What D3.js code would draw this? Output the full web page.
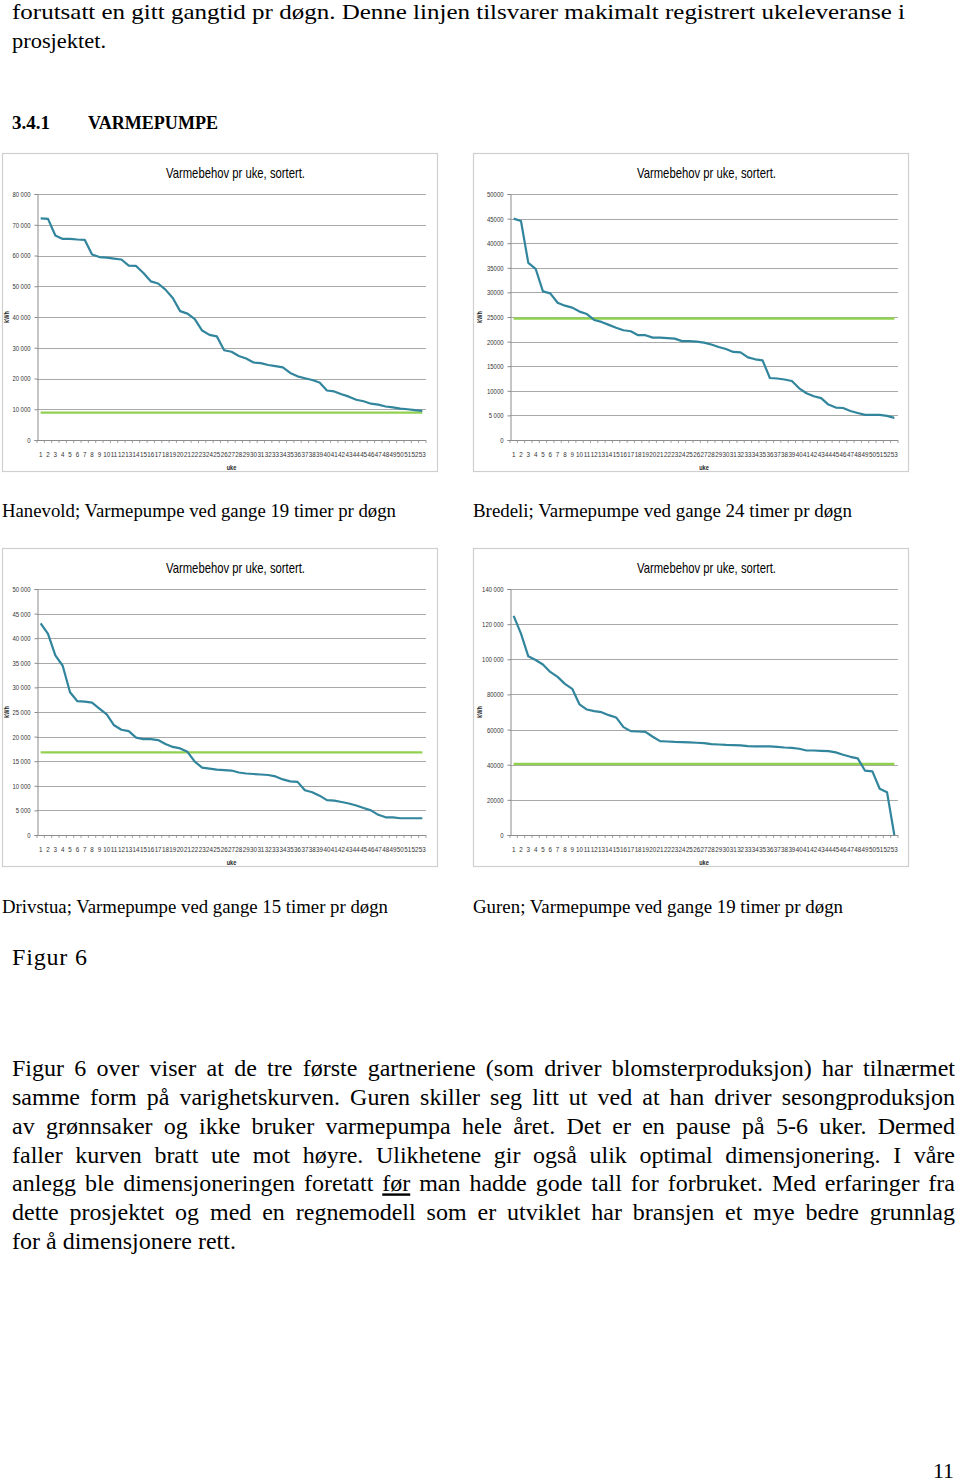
<!DOCTYPE html>
<html><head><meta charset="utf-8">
<script src="https://cdn.jsdelivr.net/npm/d3@7"></script>
<style>
html,body{margin:0;padding:0;background:#fff;}
svg{display:block;}
</style>
</head><body>
<svg id="page" width="960" height="1484"></svg>
<script>
// ---------- DATA ----------
const weeks = [1,2,3,4,5,6,7,8,9,10,11,12,13,14,15,16,17,18,19,20,21,22,23,24,25,26,27,28,29,30,31,32,33,34,35,36,37,38,39,40,41,42,43,44,45,46,47,48,49,50,51,52,53];

const hanevold = [72100,71900,66500,65400,65400,65200,65100,60300,59500,59300,59000,58700,56700,56600,54300,51600,50900,48900,46200,41900,41100,39300,35600,34200,33700,29200,28700,27300,26500,25200,25000,24400,24000,23600,21800,20700,20100,19500,18700,16100,15800,14900,14100,13100,12600,11800,11500,10900,10600,10200,10000,9700,9500];
const hanevoldCap = 8900;
const hanevoldTicks = [0,10000,20000,30000,40000,50000,60000,70000,80000];
const hanevoldTickLabels = ["0","10 000","20 000","30 000","40 000","50 000","60 000","70 000","80 000"];

const bredeli = [45000,44500,36000,34800,30200,29800,27900,27300,26900,26100,25600,24400,24000,23400,22800,22300,22100,21300,21300,20800,20800,20700,20600,20100,20100,20000,19800,19400,18900,18500,17900,17800,16800,16400,16200,12600,12500,12300,12000,10500,9500,8900,8500,7200,6600,6500,5900,5500,5100,5100,5100,4900,4500];
const bredeliCap = 24700;
const bredeliTicks = [0,5000,10000,15000,20000,25000,30000,35000,40000,45000,50000];
const bredeliTickLabels = ["0","5 000","10000","15000","20000","25000","30000","35000","40000","45000","50000"];

const drivstua = [43000,40900,36500,34400,29000,27200,27100,26900,25700,24500,22300,21400,21100,19800,19500,19500,19300,18500,17900,17600,16900,14900,13700,13500,13300,13200,13100,12700,12500,12400,12300,12200,11900,11300,10900,10800,9100,8700,8000,7100,7000,6700,6400,6000,5500,5000,4100,3600,3600,3400,3400,3400,3400];
const drivstuaCap = 16800;
const drivstuaTicks = [0,5000,10000,15000,20000,25000,30000,35000,40000,45000,50000];
const drivstuaTickLabels = ["0","5 000","10 000","15 000","20 000","25 000","30 000","35 000","40 000","45 000","50 000"];

const guren = [124700,114600,101700,99600,97000,92800,90000,86000,83200,74300,71400,70500,69900,68200,66900,61400,59100,58900,58700,55900,53400,53200,53000,52900,52700,52500,52300,51700,51500,51300,51200,51000,50600,50400,50400,50400,50200,49800,49600,49100,48100,48100,47900,47700,47000,45700,44500,43600,36600,36200,26300,24400,0];
const gurenCap = 40400;
const gurenTicks = [0,20000,40000,60000,80000,100000,120000,140000];
const gurenTickLabels = ["0","20000","40000","60000","80000","100 000","120 000","140 000"];

const chartTitle = "Varmebehov  pr uke, sortert.";
const yTitle = "kWh";
const xTitle = "uke";

const captions = [
  "Hanevold; Varmepumpe ved gange 19 timer pr døgn",
  "Bredeli; Varmepumpe ved gange 24 timer pr døgn",
  "Drivstua; Varmepumpe ved gange 15 timer pr døgn",
  "Guren; Varmepumpe ved gange 19 timer pr døgn"
];

const introLines = [
  "forutsatt en gitt gangtid pr døgn. Denne linjen tilsvarer makimalt registrert ukeleveranse i",
  "prosjektet."
];
const headingNum = "3.4.1";
const headingText = "VARMEPUMPE";
const figLabel = "Figur 6";
const paragraph = [
  "Figur 6 over viser at de tre første gartneriene (som driver blomsterproduksjon) har tilnærmet",
  "samme form på varighetskurven. Guren skiller seg litt ut ved at han driver sesongproduksjon",
  "av grønnsaker og ikke bruker varmepumpa hele året. Det er en pause på 5-6 uker. Dermed",
  "faller kurven bratt ute mot høyre. Ulikhetene gir også ulik optimal dimensjonering. I våre",
  "anlegg ble dimensjoneringen foretatt før man hadde gode tall for forbruket. Med erfaringer fra",
  "dette prosjektet og med en regnemodell som er utviklet har bransjen et mye bedre grunnlag",
  "for å dimensjonere rett."
];
const underlinedWord = "før";
const pageNumber = "11";

// ---------- LAYOUT ----------
const svg = d3.select("#page");
svg.append("rect").attr("width",960).attr("height",1484).attr("fill","#fff");

const SERIF = "'Liberation Serif','Times New Roman',serif";
const SANS = "'Liberation Sans Narrow','Arial Narrow','Liberation Sans',Arial,sans-serif";
const LINE = "#31859c", CAP = "#92d050", GRID = "#a8a8a8", AXIS = "#8c8c8c";

function condense(sel, f) {
  sel.each(function() {
    const w = this.getComputedTextLength();
    d3.select(this).attr("textLength", w * f).attr("lengthAdjust", "spacingAndGlyphs");
  });
}

// top text
svg.append("text").attr("x",12).attr("y",19).attr("font-family",SERIF).attr("font-size",22)
  .attr("textLength",893).attr("lengthAdjust","spacingAndGlyphs").attr("fill","#000").text(introLines[0]);
svg.append("text").attr("x",12).attr("y",48).attr("font-family",SERIF).attr("font-size",22)
  .attr("textLength",94).attr("lengthAdjust","spacingAndGlyphs").attr("fill","#000").text(introLines[1]);
svg.append("text").attr("x",12).attr("y",129).attr("font-family",SERIF).attr("font-size",18).attr("font-weight","bold")
  .attr("textLength",38).attr("lengthAdjust","spacingAndGlyphs").text(headingNum);
svg.append("text").attr("x",88).attr("y",129).attr("font-family",SERIF).attr("font-size",18).attr("font-weight","bold")
  .attr("textLength",130).attr("lengthAdjust","spacingAndGlyphs").text(headingText);

const charts = [
  {values:hanevold, cap:hanevoldCap, ticks:hanevoldTicks, labels:hanevoldTickLabels, bx:2,   by:153, pl:35, pr:424},
  {values:bredeli,  cap:bredeliCap,  ticks:bredeliTicks,  labels:bredeliTickLabels,  bx:473, by:153, pl:37, pr:425},
  {values:drivstua, cap:drivstuaCap, ticks:drivstuaTicks, labels:drivstuaTickLabels, bx:2,   by:548, pl:35, pr:424},
  {values:guren,    cap:gurenCap,    ticks:gurenTicks,    labels:gurenTickLabels,    bx:473, by:548, pl:37, pr:425}
];

charts.forEach((c) => {
  const g = svg.append("g").attr("transform",`translate(${c.bx},${c.by})`);
  g.append("rect").attr("x",0.5).attr("y",0.5).attr("width",435).attr("height",318)
    .attr("fill","#fff").attr("stroke","#cfcfcf").attr("stroke-width",1.2);
  const top = 41, bottom = 287;
  const y = d3.scaleLinear().domain([0, d3.max(c.ticks)]).range([bottom, top]);
  const x = d3.scaleBand().domain(weeks).range([c.pl, c.pr]).padding(0);
  const cx = d => x(d) + x.bandwidth()/2;

  // gridlines
  g.append("g").selectAll("line").data(c.ticks.filter(t=>t>0)).join("line")
    .attr("x1",c.pl).attr("x2",c.pr).attr("y1",d=>Math.round(y(d))+0.5).attr("y2",d=>Math.round(y(d))+0.5)
    .attr("stroke",GRID).attr("stroke-width",1);

  // y axis
  const ya = d3.axisLeft(y).tickValues(c.ticks).tickSize(3).tickPadding(4)
    .tickFormat((d,i)=>c.labels[i]);
  const yg = g.append("g").attr("transform",`translate(${c.pl+0.5},0)`).call(ya);
  yg.select(".domain").attr("stroke",AXIS);
  yg.selectAll(".tick line").attr("stroke",AXIS);
  yg.selectAll("text").attr("font-family",SANS).attr("font-size",7.6).attr("fill","#333");
  condense(yg.selectAll("text"), 0.78);

  // x axis
  const xa = d3.axisBottom(x).tickSize(0).tickPadding(11).tickFormat(d=>String(d));
  const xg = g.append("g").attr("transform",`translate(0,${bottom+0.5})`).call(xa);
  xg.select(".domain").attr("stroke",AXIS).attr("d",`M${c.pl},0H${c.pr}`);
  xg.selectAll("text").attr("font-family",SANS).attr("font-size",7.8).attr("fill","#333");
  condense(xg.selectAll("text"), 0.8);
  // category boundary tick marks
  const bounds = weeks.map(w => x(w)).concat([x(weeks[weeks.length-1]) + x.bandwidth()]);
  g.append("g").selectAll("line").data(bounds).join("line")
    .attr("x1",d=>d).attr("x2",d=>d).attr("y1",bottom).attr("y2",bottom+3)
    .attr("stroke",AXIS).attr("stroke-width",0.8);

  // capacity line
  g.append("line").attr("x1",cx(weeks[0])).attr("x2",cx(weeks[weeks.length-1]))
    .attr("y1",y(c.cap)).attr("y2",y(c.cap)).attr("stroke",CAP).attr("stroke-width",2.4);

  // series line
  const line = d3.line().x((d,i)=>cx(weeks[i])).y(d=>y(d));
  g.append("path").datum(c.values).attr("d",line).attr("fill","none")
    .attr("stroke",LINE).attr("stroke-width",2.2).attr("stroke-linejoin","round");

  // titles
  g.append("text").attr("x",164).attr("y",25).attr("font-family",SANS).attr("font-size",15)
    .attr("textLength",139).attr("lengthAdjust","spacingAndGlyphs").attr("fill","#000").text(chartTitle);
  const yl = g.append("text").attr("transform",`translate(${c.pl-28},${(top+bottom)/2}) rotate(-90)`)
    .attr("text-anchor","middle").attr("font-family",SANS).attr("font-size",7).attr("font-weight","bold")
    .attr("fill","#222").text(yTitle);
  condense(yl, 0.8);
  const xl = g.append("text").attr("x",(c.pl+c.pr)/2).attr("y",bottom+30).attr("text-anchor","middle")
    .attr("font-family",SANS).attr("font-size",7).attr("font-weight","bold").attr("fill","#222").text(xTitle);
  condense(xl, 0.8);
});

// captions
const capPos = [[2,517,394],[473,517,379],[2,913,386],[473,913,370]];
captions.forEach((t,i) => {
  svg.append("text").attr("x",capPos[i][0]).attr("y",capPos[i][1]).attr("font-family",SERIF)
    .attr("font-size",18).attr("textLength",capPos[i][2]).attr("lengthAdjust","spacingAndGlyphs").text(t);
});

svg.append("text").attr("x",12).attr("y",965).attr("font-family",SERIF).attr("font-size",24)
  .attr("textLength",75).attr("lengthAdjust","spacing").text(figLabel);

// justified paragraph: natural glyphs, stretched word gaps
const pLeft = 12, pRight = 955, pTop = 1076, pStep = 28.85;
paragraph.forEach((ln, i) => {
  const last = i === paragraph.length-1;
  const t = svg.append("text").attr("y", pTop + i*pStep).attr("font-family",SERIF)
    .attr("font-size",24).attr("fill","#000");
  const words = ln.split(" ");
  const spans = words.map(w => {
    const s = t.append("tspan").text(w);
    if (w === underlinedWord) s.attr("text-decoration","underline");
    return s;
  });
  const widths = spans.map(s => s.node().getComputedTextLength());
  const total = d3.sum(widths);
  const gap = last ? 6 : (pRight - pLeft - total) / (words.length - 1);
  let xx = pLeft;
  spans.forEach((s, k) => { s.attr("x", xx); xx += widths[k] + gap; });
});

svg.append("text").attr("x",933).attr("y",1478).attr("font-family",SERIF).attr("font-size",21)
  .attr("textLength",21).attr("lengthAdjust","spacingAndGlyphs").text(pageNumber);
</script>
</body></html>
